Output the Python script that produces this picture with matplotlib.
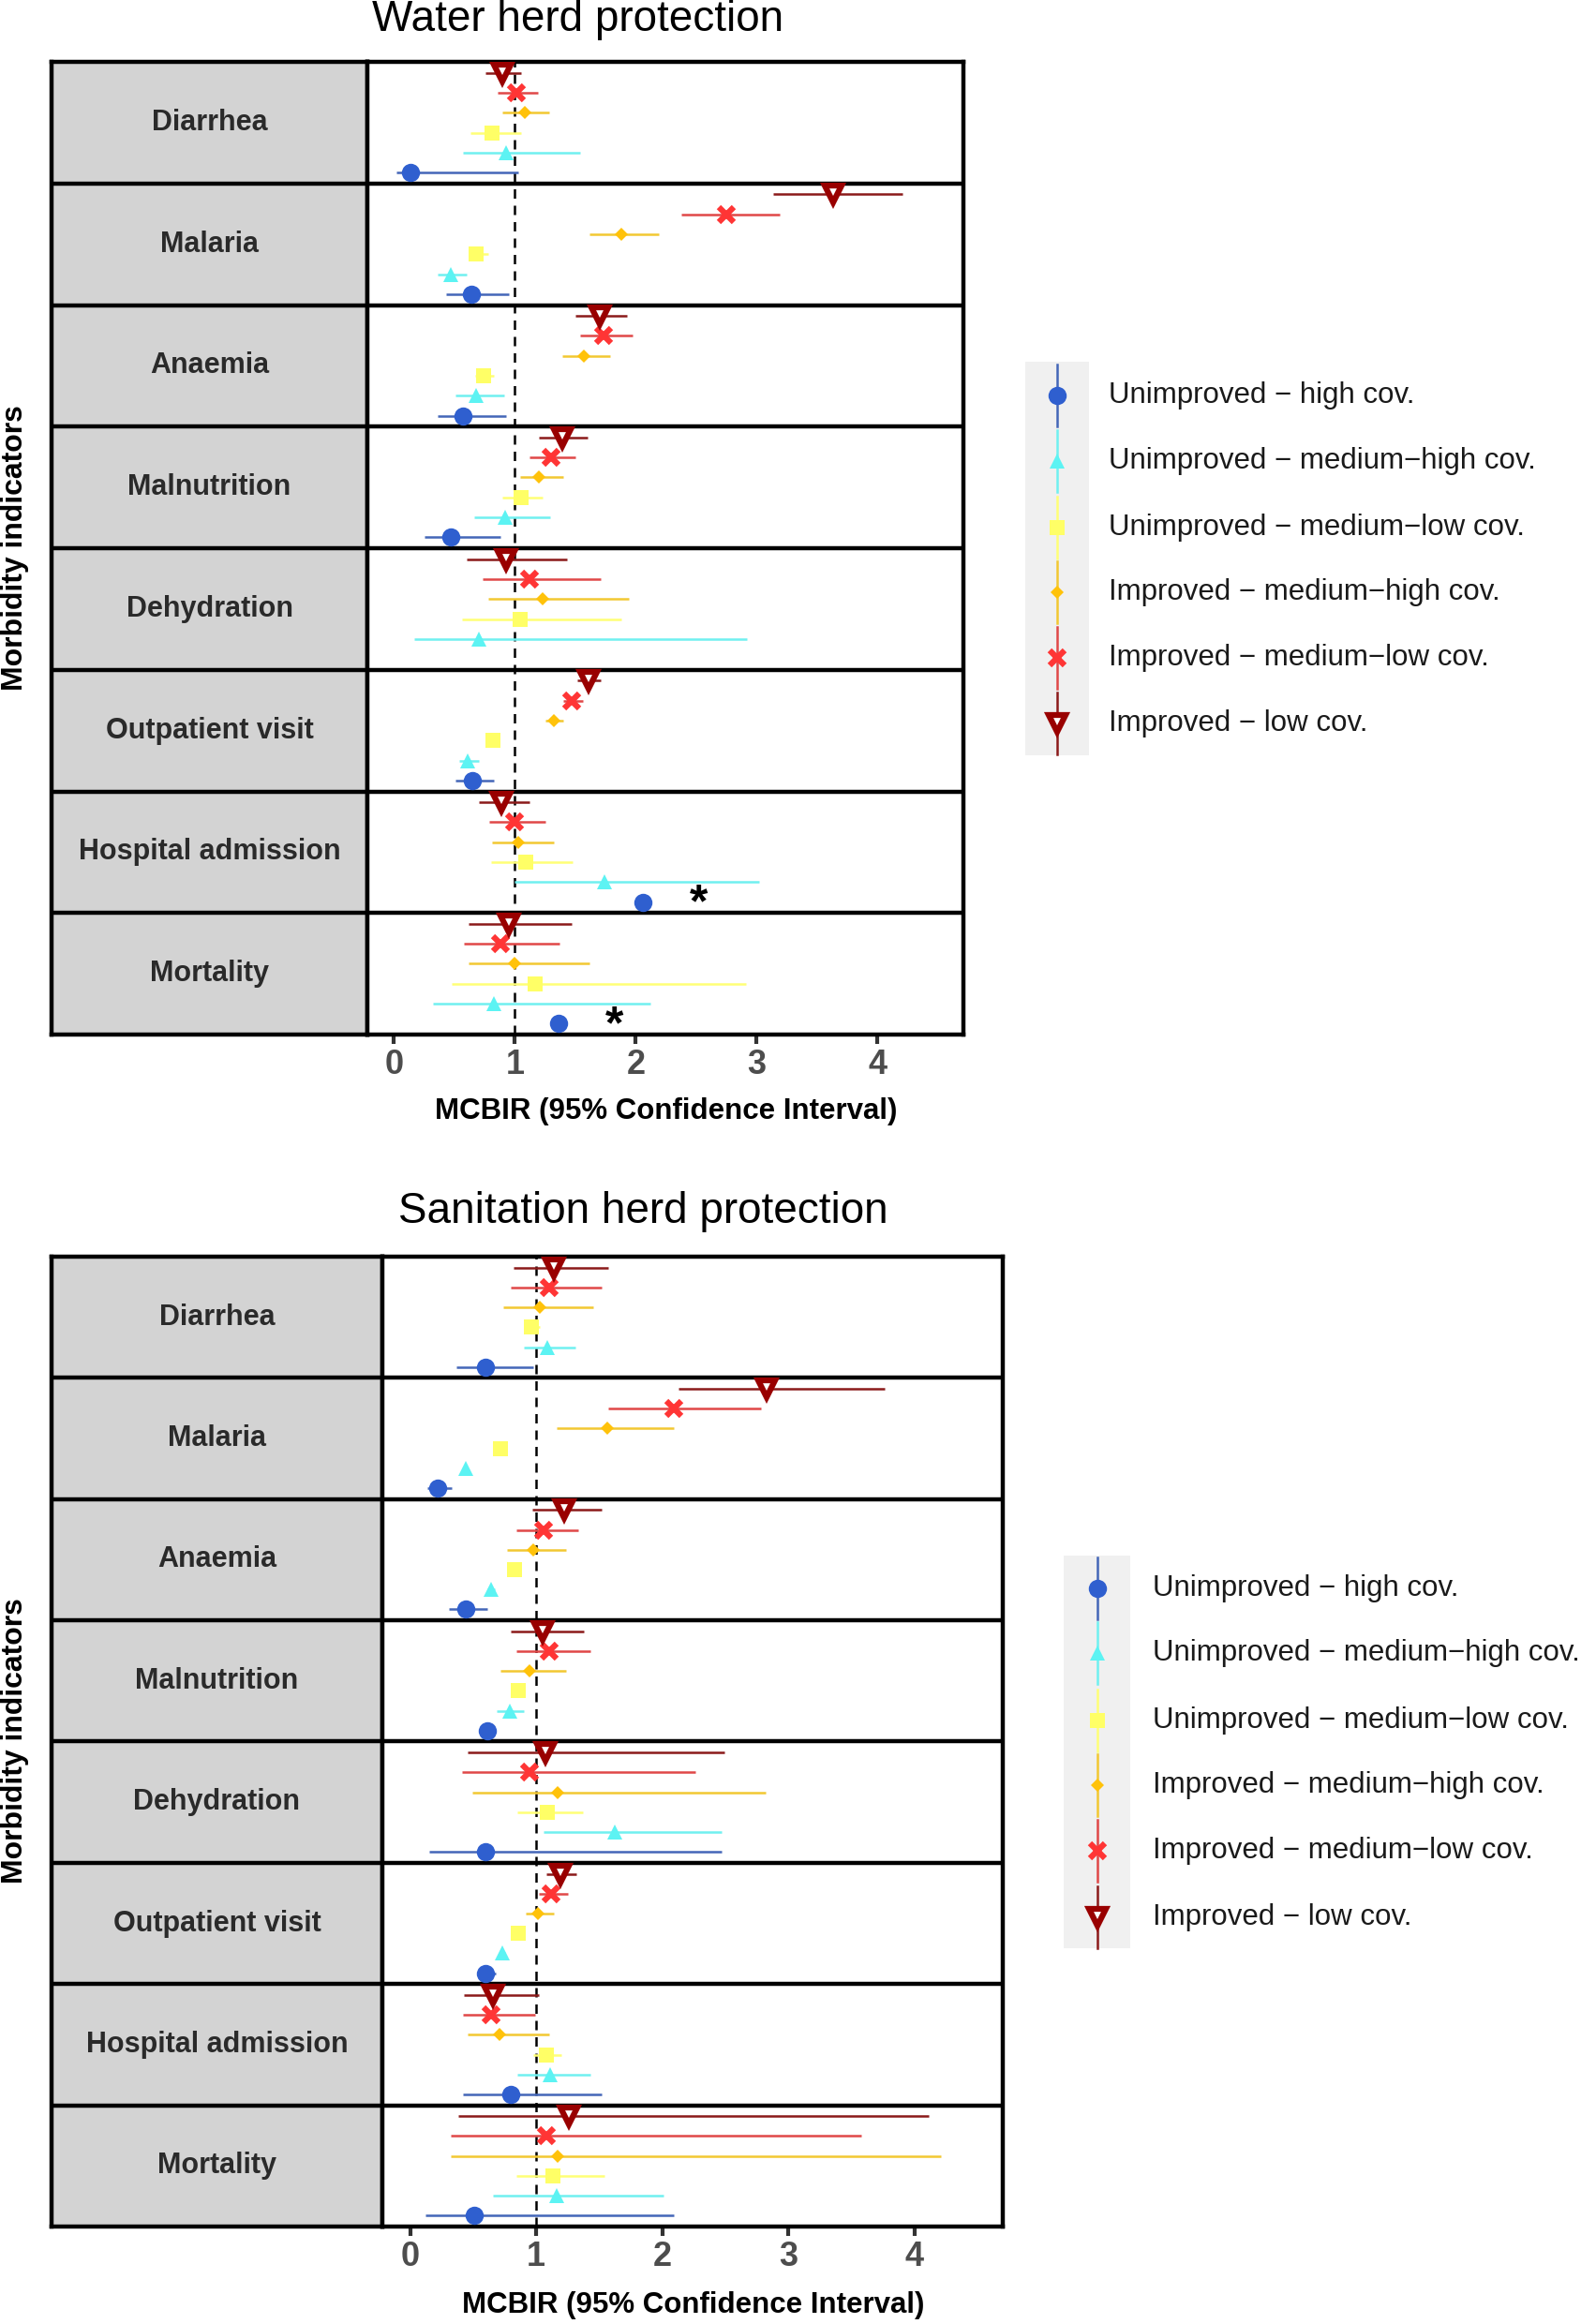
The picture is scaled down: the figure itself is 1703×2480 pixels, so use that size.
import matplotlib
matplotlib.use("Agg")
import matplotlib.pyplot as plt
import numpy as np
from matplotlib.patches import Rectangle

plt.rcParams['font.family'] = ['Liberation Sans', 'DejaVu Sans']

W, H = 1703, 2480

indicators = ["Diarrhea", "Malaria", "Anaemia", "Malnutrition", "Dehydration",
              "Outpatient visit", "Hospital admission", "Mortality"]
series_labels = ["Unimproved \u2212 high cov.", "Unimproved \u2212 medium\u2212high cov.",
                 "Unimproved \u2212 medium\u2212low cov.", "Improved \u2212 medium\u2212high cov.",
                 "Improved \u2212 medium\u2212low cov.", "Improved \u2212 low cov."]
nan = np.nan

# ---------------- Water herd protection ----------------
water_unimp_high_est = [0.14, 0.64, 0.57, 0.47, nan, 0.65, 2.06, 1.36]
water_unimp_high_lo = [0.02, 0.43, 0.36, 0.25, nan, 0.51, nan, nan]
water_unimp_high_hi = [1.03, 0.95, 0.93, 0.88, nan, 0.83, nan, nan]

water_unimp_mh_est = [0.93, 0.47, 0.68, 0.92, 0.70, 0.61, 1.74, 0.83]
water_unimp_mh_lo = [0.57, 0.36, 0.51, 0.66, 0.17, 0.54, 1.00, 0.32]
water_unimp_mh_hi = [1.54, 0.60, 0.91, 1.29, 2.92, 0.70, 3.02, 2.12]

water_unimp_ml_est = [0.81, 0.68, 0.74, 1.05, 1.04, 0.82, 1.09, 1.17]
water_unimp_ml_lo = [0.63, 0.63, 0.67, 0.90, 0.56, 0.76, 0.80, 0.48]
water_unimp_ml_hi = [1.05, 0.78, 0.83, 1.23, 1.88, 0.87, 1.48, 2.91]

water_imp_mh_est = [1.08, 1.88, 1.57, 1.20, 1.23, 1.32, 1.03, 1.00]
water_imp_mh_lo = [0.90, 1.62, 1.39, 1.04, 0.78, 1.25, 0.81, 0.62]
water_imp_mh_hi = [1.28, 2.19, 1.79, 1.40, 1.94, 1.40, 1.32, 1.62]

water_imp_ml_est = [1.01, 2.75, 1.73, 1.30, 1.12, 1.47, 1.00, 0.88]
water_imp_ml_lo = [0.86, 2.38, 1.54, 1.12, 0.73, 1.40, 0.79, 0.58]
water_imp_ml_hi = [1.19, 3.19, 1.97, 1.50, 1.71, 1.56, 1.25, 1.37]

water_imp_low_est = [0.90, 3.63, 1.70, 1.39, 0.93, 1.61, 0.89, 0.95]
water_imp_low_lo = [0.76, 3.14, 1.50, 1.20, 0.60, 1.52, 0.70, 0.62]
water_imp_low_hi = [1.05, 4.21, 1.93, 1.60, 1.43, 1.71, 1.12, 1.47]

water_star_indicators = ["Hospital admission", "Mortality"]
water_star_x = [2.52, 1.82]

# ---------------- Sanitation herd protection ----------------
san_unimp_high_est = [0.60, 0.22, 0.44, 0.61, 0.60, 0.60, 0.80, 0.51]
san_unimp_high_lo = [0.37, 0.14, 0.31, 0.58, 0.15, 0.53, 0.42, 0.12]
san_unimp_high_hi = [0.98, 0.33, 0.61, 0.64, 2.47, 0.68, 1.52, 2.09]

san_unimp_mh_est = [1.09, 0.44, 0.64, 0.79, 1.62, 0.73, 1.11, 1.16]
san_unimp_mh_lo = [0.90, 0.42, 0.61, 0.69, 1.06, 0.71, 0.85, 0.66]
san_unimp_mh_hi = [1.31, 0.46, 0.67, 0.90, 2.47, 0.75, 1.43, 2.01]

san_unimp_ml_est = [0.96, 0.72, 0.83, 0.86, 1.09, 0.86, 1.08, 1.13]
san_unimp_ml_lo = [0.91, 0.70, 0.81, 0.84, 0.85, 0.84, 0.98, 0.84]
san_unimp_ml_hi = [1.03, 0.74, 0.85, 0.88, 1.37, 0.88, 1.20, 1.54]

san_imp_mh_est = [1.03, 1.56, 0.98, 0.95, 1.17, 1.01, 0.71, 1.17]
san_imp_mh_lo = [0.74, 1.16, 0.77, 0.72, 0.49, 0.92, 0.46, 0.32]
san_imp_mh_hi = [1.45, 2.09, 1.24, 1.24, 2.82, 1.14, 1.10, 4.21]

san_imp_ml_est = [1.10, 2.09, 1.06, 1.10, 0.95, 1.12, 0.64, 1.08]
san_imp_ml_lo = [0.80, 1.57, 0.84, 0.84, 0.41, 1.02, 0.42, 0.32]
san_imp_ml_hi = [1.52, 2.78, 1.33, 1.43, 2.26, 1.25, 0.99, 3.58]

san_imp_low_est = [1.14, 2.83, 1.22, 1.05, 1.07, 1.19, 0.66, 1.26]
san_imp_low_lo = [0.82, 2.13, 0.97, 0.80, 0.46, 1.08, 0.43, 0.38]
san_imp_low_hi = [1.57, 3.76, 1.52, 1.38, 2.49, 1.32, 1.02, 4.11]

x_ticks = [0, 1, 2, 3, 4]

# ---------------- styles ----------------
marker_colors = ["#2F5FCF", "#5CF3F3", "#FFFF66", "#FFC20A", "#FF3535", "#990000"]
line_colors = ["#4466B8", "#70F0F0", "#FFFF77", "#F2C832", "#E04848", "#8B1A1A"]
markers = ["o", "^", "s", "D", "x", "v"]
msizes = [14, 12, 11, 7, 12, 13]
mews = [0, 0, 0, 0, 4.5, 4.5]

water = [(water_unimp_high_est, water_unimp_high_lo, water_unimp_high_hi),
         (water_unimp_mh_est, water_unimp_mh_lo, water_unimp_mh_hi),
         (water_unimp_ml_est, water_unimp_ml_lo, water_unimp_ml_hi),
         (water_imp_mh_est, water_imp_mh_lo, water_imp_mh_hi),
         (water_imp_ml_est, water_imp_ml_lo, water_imp_ml_hi),
         (water_imp_low_est, water_imp_low_lo, water_imp_low_hi)]
san = [(san_unimp_high_est, san_unimp_high_lo, san_unimp_high_hi),
       (san_unimp_mh_est, san_unimp_mh_lo, san_unimp_mh_hi),
       (san_unimp_ml_est, san_unimp_ml_lo, san_unimp_ml_hi),
       (san_imp_mh_est, san_imp_mh_lo, san_imp_mh_hi),
       (san_imp_ml_est, san_imp_ml_lo, san_imp_ml_hi),
       (san_imp_low_est, san_imp_low_lo, san_imp_low_hi)]

fig = plt.figure(figsize=(W / 100, H / 100), dpi=100)
fig.patch.set_facecolor("white")

BORDER = 3.2


def px_axes(x0, y0, x1, y1):
    return fig.add_axes([x0 / W, 1 - y1 / H, (x1 - x0) / W, (y1 - y0) / H])


def series_y(k):
    return np.arange(len(indicators)) + 0.91 - 0.164 * k


def plot_marker(ax, x, y, k):
    if markers[k] == "v":
        ax.plot(x, y, ls="none", marker="v", ms=msizes[k], mfc="white",
                mec=marker_colors[k], mew=mews[k], zorder=4)
    elif markers[k] == "x":
        ax.plot(x, y, ls="none", marker="x", ms=msizes[k],
                mec=marker_colors[k], mew=mews[k], zorder=4)
    else:
        ax.plot(x, y, ls="none", marker=markers[k], ms=msizes[k],
                mfc=marker_colors[k], mec=marker_colors[k], mew=0, zorder=4)


def draw_panel(x0, xs, x1, y0, y1, data, xlim, stars=None):
    n = len(indicators)
    # strip
    axs = px_axes(x0, y0, xs, y1)
    axs.set_facecolor("#D3D3D3")
    axs.set_xlim(0, 1)
    axs.set_ylim(n, 0)
    axs.set_xticks([])
    axs.set_yticks([])
    for i, name in enumerate(indicators):
        axs.text(0.5, i + 0.5, name, ha="center", va="center", fontsize=22,
                 fontweight="bold", color="#2A2A2A")
    for i in range(1, n):
        axs.axhline(i, color="black", lw=BORDER)
    for sp in axs.spines.values():
        sp.set_linewidth(BORDER)
    # plot
    ax = px_axes(xs, y0, x1, y1)
    ax.set_xlim(*xlim)
    ax.set_ylim(n, 0)
    ax.set_yticks([])
    ax.set_xticks(x_ticks)
    ax.set_xticklabels([str(t) for t in x_ticks], fontsize=26, fontweight="bold",
                       color="#4D4D4D")
    ax.tick_params(axis="x", length=7, width=3, color="#333333", pad=4)
    for sp in ax.spines.values():
        sp.set_linewidth(BORDER)
    for i in range(1, n):
        ax.axhline(i, color="black", lw=BORDER, zorder=1)
    ax.axvline(1, color="black", lw=1.8, ls=(0, (4, 3)), zorder=2)
    for k, (est, lo, hi) in enumerate(data):
        est = np.array(est, float)
        lo = np.array(lo, float)
        hi = np.array(hi, float)
        y = series_y(k)
        m = np.isfinite(lo) & np.isfinite(hi)
        ax.hlines(y[m], lo[m], hi[m], color=line_colors[k], lw=1.8, zorder=3)
        plot_marker(ax, est, y, k)
    if stars:
        names, xs_ = stars
        for nm, sx in zip(names, xs_):
            i = indicators.index(nm)
            ax.text(sx, series_y(0)[i] + 0.02, "*", ha="center", va="center",
                    fontsize=36, fontweight="bold", color="black", zorder=5)
    return ax


def draw_legend(kx0, ky0, kx1, ky1, tx, entry_y):
    axl = px_axes(kx0, ky0 - 10, kx0 + 600, ky1 + 10)
    axl.set_xlim(0, 600)
    axl.set_ylim(ky1 - ky0 + 20, 0)
    axl.axis("off")
    kw = kx1 - kx0
    axl.add_patch(Rectangle((0, 10), kw, ky1 - ky0, facecolor="#F0F0F0",
                            edgecolor="none"))
    cx = kw / 2
    for k, lab in enumerate(series_labels):
        ey = entry_y[k] - ky0 + 10
        axl.plot([cx, cx], [ey - 33, ey + 33], color=line_colors[k], lw=1.8)
        plot_marker(axl, [cx], [ey], k)
        axl.text(tx - kx0, ey, lab, ha="left", va="center", fontsize=22.5,
                 color="#1A1A1A")


# Water panel
draw_panel(55, 392, 1028, 66, 1104, water, (-0.22, 4.71),
           stars=(water_star_indicators, water_star_x))
fig.text(617 / W, 1 - 21 / H, "Water herd protection", ha="center", va="center",
         fontsize=33, color="black")
fig.text(711 / W, 1 - 1186 / H, "MCBIR (95% Confidence Interval)", ha="center",
         va="center", fontsize=22.5, fontweight="bold")
fig.text(16 / W, 1 - 585 / H, "Morbidity indicators", ha="center", va="center",
         rotation=90, fontsize=23, fontweight="bold")
draw_legend(1094, 386, 1162, 806, 1183, [422, 492, 563, 632, 702, 772])

# Sanitation panel
draw_panel(55, 408, 1070, 1341, 2376, san, (-0.22, 4.70))
fig.text(686 / W, 1 - 1293 / H, "Sanitation herd protection", ha="center",
         va="center", fontsize=33, color="black")
fig.text(740 / W, 1 - 2460 / H, "MCBIR (95% Confidence Interval)", ha="center",
         va="center", fontsize=22.5, fontweight="bold")
fig.text(16 / W, 1 - 1858 / H, "Morbidity indicators", ha="center", va="center",
         rotation=90, fontsize=23, fontweight="bold")
draw_legend(1135, 1660, 1206, 2079, 1230, [1695, 1764, 1836, 1905, 1975, 2046])

fig.savefig("out.png", dpi=100, facecolor="white")
